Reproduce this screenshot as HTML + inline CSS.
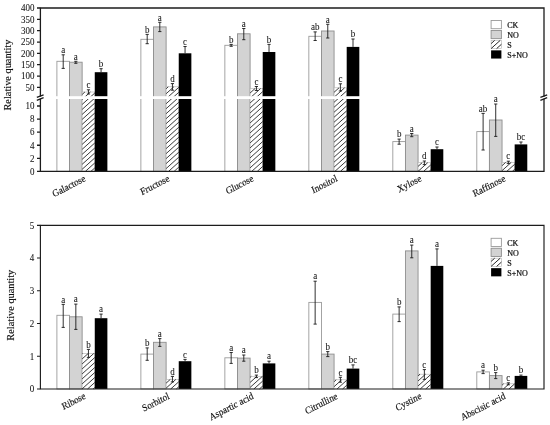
<!DOCTYPE html>
<html lang="en"><head><meta charset="utf-8"><title>Relative quantity of metabolites</title>
<style>
html,body{margin:0;padding:0;background:#fff;}
body{width:550px;height:425px;overflow:hidden;font-family:"Liberation Serif", "DejaVu Serif", serif;}
svg{display:block;}
text{font-family:"Liberation Serif", "DejaVu Serif", serif;fill:#111;stroke:#111;stroke-width:0.06px;}
.tk{font-size:10px;text-anchor:end;}
.lt{font-size:10px;text-anchor:middle;}
.xl{font-size:10px;text-anchor:end;stroke-width:0.16px;}
.yl{font-size:10.35px;text-anchor:middle;stroke-width:0.14px;}
.lg{font-size:8px;stroke-width:0.22px;}
.ax{stroke:#1c1c1c;stroke-width:1.3;fill:none;}
.ax2{stroke:#1c1c1c;stroke-width:1.15;fill:none;}
.eb{stroke:#1a1a1a;stroke-width:0.9;fill:none;}
.ck{fill:#fff;stroke:#9a9a9a;stroke-width:0.9;}
.no{fill:#d3d3d3;stroke:#8e8e8e;stroke-width:0.9;}
.s{fill:#fff;stroke:#b0b0b0;stroke-width:0.6;}
.sn{fill:#000;stroke:none;}
.h{stroke:#262626;stroke-width:0.9;fill:none;}
</style></head><body>
<svg width="550" height="425" viewBox="0 0 550 425">
<rect width="550" height="425" fill="#fff"/>

<rect class="ck" x="56.90" y="61.30" width="12.62" height="110.10"/>
<rect class="no" x="69.52" y="62.20" width="12.62" height="109.20"/>
<rect class="s" x="82.14" y="92.00" width="12.62" height="79.40"/>
<path class="h" d="M82.14 94.46L84.88 92.00M82.14 99.45L90.42 92.00M82.14 104.44L94.76 93.09M82.14 109.43L94.76 98.08M82.14 114.42L94.76 103.07M82.14 119.41L94.76 108.06M82.14 124.40L94.76 113.05M82.14 129.39L94.76 118.04M82.14 134.38L94.76 123.03M82.14 139.37L94.76 128.02M82.14 144.36L94.76 133.01M82.14 149.35L94.76 138.00M82.14 154.34L94.76 142.99M82.14 159.33L94.76 147.98M82.14 164.32L94.76 152.97M82.14 169.31L94.76 157.96M85.37 171.40L94.76 162.95M90.91 171.40L94.76 167.94"/>
<rect class="sn" x="94.76" y="72.20" width="12.62" height="99.20"/>
<rect x="55.90" y="96.2" width="52.48" height="2.8" fill="#fff"/>
<path class="eb" d="M63.21 54.80V68.40M61.61 54.80h3.2M61.61 68.40h3.2"/>
<text class="lt" transform="translate(63.21 53.00) scale(0.9 1)">a</text>
<path class="eb" d="M75.83 61.30V63.30M74.23 61.30h3.2M74.23 63.30h3.2"/>
<text class="lt" transform="translate(75.83 59.50) scale(0.9 1)">a</text>
<path class="eb" d="M88.45 89.80V94.00M86.85 89.80h3.2M86.85 94.00h3.2"/>
<text class="lt" transform="translate(88.45 88.00) scale(0.9 1)">c</text>
<path class="eb" d="M101.07 68.70V72.20M99.47 68.70h3.2"/>
<text class="lt" transform="translate(101.07 66.90) scale(0.9 1)">b</text>
<text class="xl" transform="translate(86.14 180.70) scale(0.9 1) rotate(-25)">Galactose</text>
<rect class="ck" x="140.88" y="39.30" width="12.62" height="132.10"/>
<rect class="no" x="153.50" y="26.90" width="12.62" height="144.50"/>
<rect class="s" x="166.12" y="86.80" width="12.62" height="84.60"/>
<path class="h" d="M166.12 88.74L168.28 86.80M166.12 93.73L173.82 86.80M166.12 98.72L178.74 87.36M166.12 103.71L178.74 92.35M166.12 108.70L178.74 97.34M166.12 113.69L178.74 102.33M166.12 118.68L178.74 107.32M166.12 123.67L178.74 112.31M166.12 128.66L178.74 117.30M166.12 133.65L178.74 122.29M166.12 138.64L178.74 127.28M166.12 143.63L178.74 132.27M166.12 148.62L178.74 137.26M166.12 153.61L178.74 142.25M166.12 158.60L178.74 147.24M166.12 163.59L178.74 152.23M166.12 168.58L178.74 157.22M168.53 171.40L178.74 162.21M174.08 171.40L178.74 167.20"/>
<rect class="sn" x="178.74" y="53.30" width="12.62" height="118.10"/>
<rect x="139.88" y="96.2" width="52.48" height="2.8" fill="#fff"/>
<path class="eb" d="M147.19 34.40V43.70M145.59 34.40h3.2M145.59 43.70h3.2"/>
<text class="lt" transform="translate(147.19 32.60) scale(0.9 1)">b</text>
<path class="eb" d="M159.81 22.30V31.60M158.21 22.30h3.2M158.21 31.60h3.2"/>
<text class="lt" transform="translate(159.81 20.50) scale(0.9 1)">a</text>
<path class="eb" d="M172.43 83.60V90.20M170.83 83.60h3.2M170.83 90.20h3.2"/>
<text class="lt" transform="translate(172.43 81.80) scale(0.9 1)">d</text>
<path class="eb" d="M185.05 46.50V53.30M183.45 46.50h3.2"/>
<text class="lt" transform="translate(185.05 44.70) scale(0.9 1)">c</text>
<text class="xl" transform="translate(170.12 180.70) scale(0.9 1) rotate(-25)">Fructose</text>
<rect class="ck" x="224.86" y="45.30" width="12.62" height="126.10"/>
<rect class="no" x="237.48" y="33.80" width="12.62" height="137.60"/>
<rect class="s" x="250.10" y="88.50" width="12.62" height="82.90"/>
<path class="h" d="M250.10 93.00L255.10 88.50M250.10 97.99L260.64 88.50M250.10 102.98L262.72 91.62M250.10 107.97L262.72 96.61M250.10 112.96L262.72 101.60M250.10 117.95L262.72 106.59M250.10 122.94L262.72 111.58M250.10 127.93L262.72 116.57M250.10 132.92L262.72 121.56M250.10 137.91L262.72 126.55M250.10 142.90L262.72 131.54M250.10 147.89L262.72 136.53M250.10 152.88L262.72 141.52M250.10 157.87L262.72 146.51M250.10 162.86L262.72 151.50M250.10 167.85L262.72 156.49M251.70 171.40L262.72 161.48M257.24 171.40L262.72 166.47"/>
<rect class="sn" x="262.72" y="52.00" width="12.62" height="119.40"/>
<rect x="223.86" y="96.2" width="52.48" height="2.8" fill="#fff"/>
<path class="eb" d="M231.17 44.40V46.30M229.57 44.40h3.2M229.57 46.30h3.2"/>
<text class="lt" transform="translate(231.17 42.60) scale(0.9 1)">b</text>
<path class="eb" d="M243.79 28.50V39.70M242.19 28.50h3.2M242.19 39.70h3.2"/>
<text class="lt" transform="translate(243.79 26.70) scale(0.9 1)">a</text>
<path class="eb" d="M256.41 86.50V90.50M254.81 86.50h3.2M254.81 90.50h3.2"/>
<text class="lt" transform="translate(256.41 84.70) scale(0.9 1)">c</text>
<path class="eb" d="M269.03 44.40V52.00M267.43 44.40h3.2"/>
<text class="lt" transform="translate(269.03 42.60) scale(0.9 1)">b</text>
<text class="xl" transform="translate(254.10 180.70) scale(0.9 1) rotate(-25)">Glucose</text>
<rect class="ck" x="308.84" y="36.30" width="12.62" height="135.10"/>
<rect class="no" x="321.46" y="31.00" width="12.62" height="140.40"/>
<rect class="s" x="334.08" y="87.80" width="12.62" height="83.60"/>
<path class="h" d="M334.08 92.27L339.04 87.80M334.08 97.26L344.59 87.80M334.08 102.25L346.70 90.89M334.08 107.24L346.70 95.88M334.08 112.23L346.70 100.87M334.08 117.22L346.70 105.86M334.08 122.21L346.70 110.85M334.08 127.20L346.70 115.84M334.08 132.19L346.70 120.83M334.08 137.18L346.70 125.82M334.08 142.17L346.70 130.81M334.08 147.16L346.70 135.80M334.08 152.15L346.70 140.79M334.08 157.14L346.70 145.78M334.08 162.13L346.70 150.77M334.08 167.12L346.70 155.76M334.87 171.40L346.70 160.75M340.41 171.40L346.70 165.74M345.96 171.40L346.70 170.73"/>
<rect class="sn" x="346.70" y="46.90" width="12.62" height="124.50"/>
<rect x="307.84" y="96.2" width="52.48" height="2.8" fill="#fff"/>
<path class="eb" d="M315.15 31.90V40.50M313.55 31.90h3.2M313.55 40.50h3.2"/>
<text class="lt" transform="translate(315.15 30.10) scale(0.9 1)">ab</text>
<path class="eb" d="M327.77 24.30V38.00M326.17 24.30h3.2M326.17 38.00h3.2"/>
<text class="lt" transform="translate(327.77 22.50) scale(0.9 1)">a</text>
<path class="eb" d="M340.39 83.80V91.00M338.79 83.80h3.2M338.79 91.00h3.2"/>
<text class="lt" transform="translate(340.39 82.00) scale(0.9 1)">c</text>
<path class="eb" d="M353.01 39.00V46.90M351.41 39.00h3.2"/>
<text class="lt" transform="translate(353.01 37.20) scale(0.9 1)">b</text>
<text class="xl" transform="translate(338.08 180.70) scale(0.9 1) rotate(-25)">Inositol</text>
<rect class="ck" x="392.82" y="141.60" width="12.62" height="29.80"/>
<rect class="no" x="405.44" y="135.10" width="12.62" height="36.30"/>
<rect class="s" x="418.06" y="162.70" width="12.62" height="8.70"/>
<path class="h" d="M418.06 166.39L422.16 162.70M418.06 171.38L427.70 162.70M423.58 171.40L430.68 165.01M429.12 171.40L430.68 170.00"/>
<rect class="sn" x="430.68" y="149.20" width="12.62" height="22.20"/>
<rect x="391.82" y="96.2" width="52.48" height="2.8" fill="#fff"/>
<path class="eb" d="M399.13 139.10V144.20M397.53 139.10h3.2M397.53 144.20h3.2"/>
<text class="lt" transform="translate(399.13 137.30) scale(0.9 1)">b</text>
<path class="eb" d="M411.75 133.50V136.70M410.15 133.50h3.2M410.15 136.70h3.2"/>
<text class="lt" transform="translate(411.75 131.70) scale(0.9 1)">a</text>
<path class="eb" d="M424.37 161.00V164.60M422.77 161.00h3.2M422.77 164.60h3.2"/>
<text class="lt" transform="translate(424.37 159.20) scale(0.9 1)">d</text>
<path class="eb" d="M436.99 147.00V149.20M435.39 147.00h3.2"/>
<text class="lt" transform="translate(436.99 145.20) scale(0.9 1)">c</text>
<text class="xl" transform="translate(422.06 180.70) scale(0.9 1) rotate(-25)">Xylose</text>
<rect class="ck" x="476.80" y="131.60" width="12.62" height="39.80"/>
<rect class="no" x="489.42" y="120.00" width="12.62" height="51.40"/>
<rect class="s" x="502.04" y="162.40" width="12.62" height="9.00"/>
<path class="h" d="M502.04 165.65L505.66 162.40M502.04 170.64L511.20 162.40M506.74 171.40L514.66 164.28M512.29 171.40L514.66 169.27"/>
<rect class="sn" x="514.66" y="144.40" width="12.62" height="27.00"/>
<rect x="475.80" y="96.2" width="52.48" height="2.8" fill="#fff"/>
<path class="eb" d="M483.11 113.40V150.00M481.51 113.40h3.2M481.51 150.00h3.2"/>
<text class="lt" transform="translate(483.11 111.60) scale(0.9 1)">ab</text>
<path class="eb" d="M495.73 104.00V136.40M494.13 104.00h3.2M494.13 136.40h3.2"/>
<text class="lt" transform="translate(495.73 102.20) scale(0.9 1)">a</text>
<path class="eb" d="M508.35 161.20V163.60M506.75 161.20h3.2M506.75 163.60h3.2"/>
<text class="lt" transform="translate(508.35 159.40) scale(0.9 1)">c</text>
<path class="eb" d="M520.97 142.00V144.40M519.37 142.00h3.2"/>
<text class="lt" transform="translate(520.97 140.20) scale(0.9 1)">bc</text>
<text class="xl" transform="translate(506.04 180.70) scale(0.9 1) rotate(-25)">Raffinose</text>
<path class="ax" d="M40.4 171.4V8.0H544.0V171.4M39.75 171.4H544.65"/>
<rect x="38.9" y="96.6" width="3" height="2.2" fill="#fff"/>
<path d="M36.8 97.4L43.6 94.8M36.8 100.4L43.6 97.7" stroke="#1c1c1c" stroke-width="1.3" fill="none"/>
<rect x="542.5" y="96.6" width="3" height="2.2" fill="#fff"/>
<path d="M540.4 97.4L547.2 94.8M540.4 100.4L547.2 97.7" stroke="#1c1c1c" stroke-width="1.3" fill="none"/>
<text class="tk" transform="translate(34.6 90.70) scale(0.9 1)">50</text>
<text class="tk" transform="translate(34.6 79.36) scale(0.9 1)">100</text>
<text class="tk" transform="translate(34.6 68.02) scale(0.9 1)">150</text>
<text class="tk" transform="translate(34.6 56.67) scale(0.9 1)">200</text>
<text class="tk" transform="translate(34.6 45.33) scale(0.9 1)">250</text>
<text class="tk" transform="translate(34.6 33.99) scale(0.9 1)">300</text>
<text class="tk" transform="translate(34.6 22.64) scale(0.9 1)">350</text>
<text class="tk" transform="translate(34.6 11.30) scale(0.9 1)">400</text>
<text class="tk" transform="translate(34.6 174.70) scale(0.9 1)">0</text>
<text class="tk" transform="translate(34.6 161.62) scale(0.9 1)">2</text>
<text class="tk" transform="translate(34.6 148.54) scale(0.9 1)">4</text>
<text class="tk" transform="translate(34.6 135.46) scale(0.9 1)">6</text>
<text class="tk" transform="translate(34.6 122.38) scale(0.9 1)">8</text>
<text class="tk" transform="translate(34.6 109.30) scale(0.9 1)">10</text>
<path class="ax" d="M37.0 87.40H40.4M37.0 76.06H40.4M37.0 64.72H40.4M37.0 53.37H40.4M37.0 42.03H40.4M37.0 30.69H40.4M37.0 19.34H40.4M37.0 8.00H40.4M37.0 171.40H40.4M37.0 158.32H40.4M37.0 145.24H40.4M37.0 132.16H40.4M37.0 119.08H40.4M37.0 106.00H40.4"/>
<text class="yl" transform="translate(10.9 75.1) rotate(-90) scale(1 0.9)">Relative quantity</text>
<rect class="ck" x="56.90" y="315.30" width="12.62" height="73.65"/>
<rect class="no" x="69.52" y="316.80" width="12.62" height="72.15"/>
<rect class="s" x="82.14" y="353.50" width="12.62" height="35.45"/>
<path class="h" d="M82.14 353.94L82.63 353.50M82.14 358.93L88.18 353.50M82.14 363.92L93.72 353.50M82.14 368.91L94.76 357.56M82.14 373.90L94.76 362.55M82.14 378.89L94.76 367.54M82.14 383.88L94.76 372.53M82.14 388.87L94.76 377.52M87.60 388.95L94.76 382.51M93.14 388.95L94.76 387.50"/>
<rect class="sn" x="94.76" y="318.20" width="12.62" height="70.75"/>
<path class="eb" d="M63.21 304.40V327.40M61.61 304.40h3.2M61.61 327.40h3.2"/>
<text class="lt" transform="translate(63.21 302.60) scale(0.9 1)">a</text>
<path class="eb" d="M75.83 304.10V329.40M74.23 304.10h3.2M74.23 329.40h3.2"/>
<text class="lt" transform="translate(75.83 302.30) scale(0.9 1)">a</text>
<path class="eb" d="M88.45 349.40V357.40M86.85 349.40h3.2M86.85 357.40h3.2"/>
<text class="lt" transform="translate(88.45 347.60) scale(0.9 1)">b</text>
<path class="eb" d="M101.07 314.10V318.20M99.47 314.10h3.2"/>
<text class="lt" transform="translate(101.07 312.30) scale(0.9 1)">a</text>
<text class="xl" transform="translate(86.14 398.25) scale(0.9 1) rotate(-25)">Ribose</text>
<rect class="ck" x="140.88" y="354.10" width="12.62" height="34.85"/>
<rect class="no" x="153.50" y="342.30" width="12.62" height="46.65"/>
<rect class="s" x="166.12" y="379.40" width="12.62" height="9.55"/>
<path class="h" d="M166.12 383.15L170.29 379.40M166.12 388.14L175.83 379.40M170.77 388.95L178.74 381.77M176.31 388.95L178.74 386.76"/>
<rect class="sn" x="178.74" y="361.20" width="12.62" height="27.75"/>
<path class="eb" d="M147.19 347.90V360.30M145.59 347.90h3.2M145.59 360.30h3.2"/>
<text class="lt" transform="translate(147.19 346.10) scale(0.9 1)">b</text>
<path class="eb" d="M159.81 338.60V346.40M158.21 338.60h3.2M158.21 346.40h3.2"/>
<text class="lt" transform="translate(159.81 336.80) scale(0.9 1)">a</text>
<path class="eb" d="M172.43 376.40V381.90M170.83 376.40h3.2M170.83 381.90h3.2"/>
<text class="lt" transform="translate(172.43 374.60) scale(0.9 1)">d</text>
<path class="eb" d="M185.05 359.40V361.20M183.45 359.40h3.2"/>
<text class="lt" transform="translate(185.05 357.60) scale(0.9 1)">c</text>
<text class="xl" transform="translate(170.12 398.25) scale(0.9 1) rotate(-25)">Sorbitol</text>
<rect class="ck" x="224.86" y="357.80" width="12.62" height="31.15"/>
<rect class="no" x="237.48" y="358.10" width="12.62" height="30.85"/>
<rect class="s" x="250.10" y="376.40" width="12.62" height="12.55"/>
<path class="h" d="M250.10 377.43L251.24 376.40M250.10 382.42L256.79 376.40M250.10 387.41L262.33 376.40M253.93 388.95L262.72 381.04M259.48 388.95L262.72 386.03"/>
<rect class="sn" x="262.72" y="363.40" width="12.62" height="25.55"/>
<path class="eb" d="M231.17 352.50V363.40M229.57 352.50h3.2M229.57 363.40h3.2"/>
<text class="lt" transform="translate(231.17 350.70) scale(0.9 1)">a</text>
<path class="eb" d="M243.79 355.00V361.20M242.19 355.00h3.2M242.19 361.20h3.2"/>
<text class="lt" transform="translate(243.79 353.20) scale(0.9 1)">a</text>
<path class="eb" d="M256.41 375.10V377.60M254.81 375.10h3.2M254.81 377.60h3.2"/>
<text class="lt" transform="translate(256.41 373.30) scale(0.9 1)">b</text>
<path class="eb" d="M269.03 361.20V363.40M267.43 361.20h3.2"/>
<text class="lt" transform="translate(269.03 359.40) scale(0.9 1)">a</text>
<text class="xl" transform="translate(254.10 398.25) scale(0.9 1) rotate(-25)">Aspartic acid</text>
<rect class="ck" x="308.84" y="302.40" width="12.62" height="86.55"/>
<rect class="no" x="321.46" y="354.10" width="12.62" height="34.85"/>
<rect class="s" x="334.08" y="379.80" width="12.62" height="9.15"/>
<path class="h" d="M334.08 381.69L336.18 379.80M334.08 386.68L341.72 379.80M337.10 388.95L346.70 380.31M342.64 388.95L346.70 385.30"/>
<rect class="sn" x="346.70" y="368.60" width="12.62" height="20.35"/>
<path class="eb" d="M315.15 281.20V324.10M313.55 281.20h3.2M313.55 324.10h3.2"/>
<text class="lt" transform="translate(315.15 279.40) scale(0.9 1)">a</text>
<path class="eb" d="M327.77 351.60V356.60M326.17 351.60h3.2M326.17 356.60h3.2"/>
<text class="lt" transform="translate(327.77 349.80) scale(0.9 1)">b</text>
<path class="eb" d="M340.39 377.30V382.20M338.79 377.30h3.2M338.79 382.20h3.2"/>
<text class="lt" transform="translate(340.39 375.50) scale(0.9 1)">c</text>
<path class="eb" d="M353.01 364.90V368.60M351.41 364.90h3.2"/>
<text class="lt" transform="translate(353.01 363.10) scale(0.9 1)">bc</text>
<text class="xl" transform="translate(338.08 398.25) scale(0.9 1) rotate(-25)">Citrulline</text>
<rect class="ck" x="392.82" y="314.10" width="12.62" height="74.85"/>
<rect class="no" x="405.44" y="250.90" width="12.62" height="138.05"/>
<rect class="s" x="418.06" y="374.20" width="12.62" height="14.75"/>
<path class="h" d="M418.06 375.97L420.02 374.20M418.06 380.96L425.57 374.20M418.06 385.95L430.68 374.59M420.27 388.95L430.68 379.58M425.81 388.95L430.68 384.57"/>
<rect class="sn" x="430.68" y="265.90" width="12.62" height="123.05"/>
<path class="eb" d="M399.13 306.90V321.60M397.53 306.90h3.2M397.53 321.60h3.2"/>
<text class="lt" transform="translate(399.13 305.10) scale(0.9 1)">b</text>
<path class="eb" d="M411.75 245.10V257.80M410.15 245.10h3.2M410.15 257.80h3.2"/>
<text class="lt" transform="translate(411.75 243.30) scale(0.9 1)">a</text>
<path class="eb" d="M424.37 369.60V379.40M422.77 369.60h3.2M422.77 379.40h3.2"/>
<text class="lt" transform="translate(424.37 367.80) scale(0.9 1)">c</text>
<path class="eb" d="M436.99 248.90V265.90M435.39 248.90h3.2"/>
<text class="lt" transform="translate(436.99 247.10) scale(0.9 1)">a</text>
<text class="xl" transform="translate(422.06 398.25) scale(0.9 1) rotate(-25)">Cystine</text>
<rect class="ck" x="476.80" y="371.90" width="12.62" height="17.05"/>
<rect class="no" x="489.42" y="375.60" width="12.62" height="13.35"/>
<rect class="s" x="502.04" y="383.80" width="12.62" height="5.15"/>
<path class="h" d="M502.04 385.21L503.61 383.80M503.43 388.95L509.16 383.80M508.98 388.95L514.66 383.84M514.52 388.95L514.66 388.83"/>
<rect class="sn" x="514.66" y="375.90" width="12.62" height="13.05"/>
<path class="eb" d="M483.11 370.20V373.60M481.51 370.20h3.2M481.51 373.60h3.2"/>
<text class="lt" transform="translate(483.11 368.40) scale(0.9 1)">a</text>
<path class="eb" d="M495.73 372.60V378.60M494.13 372.60h3.2M494.13 378.60h3.2"/>
<text class="lt" transform="translate(495.73 370.80) scale(0.9 1)">b</text>
<path class="eb" d="M508.35 382.80V384.80M506.75 382.80h3.2M506.75 384.80h3.2"/>
<text class="lt" transform="translate(508.35 381.00) scale(0.9 1)">c</text>
<path class="eb" d="M520.97 375.10V375.90M519.37 375.10h3.2"/>
<text class="lt" transform="translate(520.97 373.30) scale(0.9 1)">b</text>
<text class="xl" transform="translate(506.04 398.25) scale(0.9 1) rotate(-25)">Abscisic acid</text>
<path class="ax2" d="M40.4 388.95V225.3H544.0V388.95M39.8 388.95H544.6"/>
<text class="tk" transform="translate(34.3 392.25) scale(0.9 1)">0</text>
<text class="tk" transform="translate(34.3 359.52) scale(0.9 1)">1</text>
<text class="tk" transform="translate(34.3 326.79) scale(0.9 1)">2</text>
<text class="tk" transform="translate(34.3 294.06) scale(0.9 1)">3</text>
<text class="tk" transform="translate(34.3 261.33) scale(0.9 1)">4</text>
<text class="tk" transform="translate(34.3 228.60) scale(0.9 1)">5</text>
<path class="ax2" d="M37.0 388.95H40.4M37.0 356.22H40.4M37.0 323.49H40.4M37.0 290.76H40.4M37.0 258.03H40.4M37.0 225.30H40.4"/>
<text class="yl" transform="translate(13.6 305.2) rotate(-90) scale(1 0.9)">Relative quantity</text>
<rect class="ck" x="491.1" y="20.50" width="10.3" height="8.2"/>
<text class="lg" x="507.2" y="27.90">CK</text>
<rect class="no" x="491.1" y="30.45" width="10.3" height="8.2"/>
<text class="lg" x="507.2" y="37.85">NO</text>
<rect class="s" x="491.1" y="40.40" width="10.3" height="8.2"/>
<path class="h" style="stroke-width:1" d="M491.10 43.60L494.66 40.40M491.10 48.59L500.20 40.40M496.63 48.60L501.40 44.31"/>
<text class="lg" x="507.2" y="47.80">S</text>
<rect class="sn" x="491.1" y="50.35" width="10.3" height="8.2"/>
<text class="lg" x="507.2" y="57.75">S+NO</text>
<rect class="ck" x="491.1" y="238.30" width="10.3" height="8.2"/>
<text class="lg" x="507.2" y="245.70">CK</text>
<rect class="no" x="491.1" y="248.25" width="10.3" height="8.2"/>
<text class="lg" x="507.2" y="255.65">NO</text>
<rect class="s" x="491.1" y="258.20" width="10.3" height="8.2"/>
<path class="h" style="stroke-width:1" d="M491.10 261.40L494.66 258.20M491.10 266.39L500.20 258.20M496.63 266.40L501.40 262.11"/>
<text class="lg" x="507.2" y="265.60">S</text>
<rect class="sn" x="491.1" y="268.15" width="10.3" height="8.2"/>
<text class="lg" x="507.2" y="275.55">S+NO</text>
</svg></body></html>
